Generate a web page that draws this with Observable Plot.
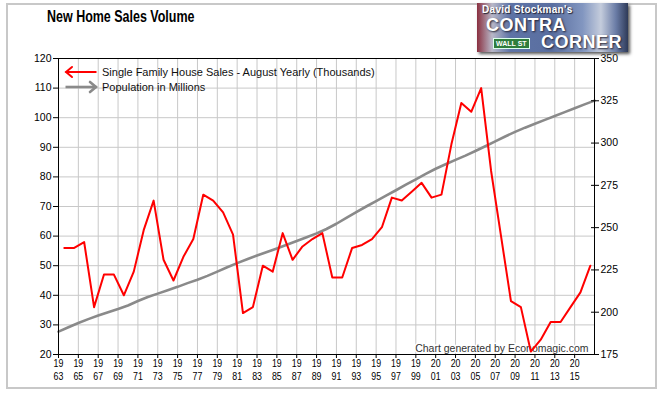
<!DOCTYPE html>
<html>
<head>
<meta charset="utf-8">
<script src="https://cdn.jsdelivr.net/npm/d3@7"></script>
<script src="https://cdn.jsdelivr.net/npm/@observablehq/plot@0.6"></script>
<style>
  html, body { margin: 0; padding: 0; background: #fff; }
  #wrap { position: relative; width: 661px; height: 393px; overflow: hidden; font-family: "Liberation Sans", Arial, sans-serif; }
  #border { position: absolute; left: 6px; top: 3px; width: 647px; height: 382px; border: 2px solid #c8c8c8; }
  #title { position: absolute; left: 47px; top: 8px; font: bold 16px "Liberation Sans", Arial, sans-serif; color: #000;
           transform: scaleX(0.78); transform-origin: left top; white-space: nowrap; }
  #legend { position: absolute; left: 64px; top: 65px; font-size: 11px; color: #111; }
  .lrow { position: absolute; left: 0; white-space: nowrap; height: 14px; line-height: 14px; }
  .lrow svg { position: absolute; left: 0; top: 0; }
  .lrow span { position: absolute; left: 38px; top: 0; }
  #logo { position: absolute; left: 477px; top: 3px; width: 151px; height: 49px; overflow: hidden;
          background: linear-gradient(90deg, #8a3040 0%, #b8b8c8 10%, #5e73a6 22%, #5a6fa0 50%, #8296c0 70%, #c4ccdc 82%, #6a7ca6 92%, #2e3a58 100%);
          box-shadow: 2px 2px 3px #555; font-family: "Liberation Sans", Arial, sans-serif; color: #fff; font-weight: bold; }
  #logo div { white-space: nowrap; }
  #logo .a { position: absolute; left: 5px; top: 1px; font-size: 10px; letter-spacing: 0.3px; text-shadow: 1px 1px 1px #223; }
  #logo .b { position: absolute; left: 9px; top: 13px; font-size: 18px; line-height: 18px; letter-spacing: 0.5px; text-shadow: 1px 1px 2px #223; }
  #logo .c { position: absolute; left: 64px; top: 30px; font-size: 18px; line-height: 18px; letter-spacing: 0.5px; text-shadow: 1px 1px 2px #223; }
  #logo .d { position: absolute; left: 16px; top: 35px; font-size: 7px; background: #2f7d3c; border: 1px solid #dfe; padding: 0 2px; line-height: 9px; }
</style>
</head>
<body>
<div id="wrap">
  <div id="chart"></div>
  <div id="border"></div>
  <div id="title">New Home Sales Volume</div>
  <div id="logo"><div class="a">David Stockman's</div><div class="b">CONTRA</div><div class="c">CORNER</div><div class="d">WALL ST</div></div>
  <div id="legend"></div>
</div>
<script>
// ---- data ----
const salesYears = d3.range(1963, 2017);
const sales = [56, 56, 58, 36, 47, 47, 40, 48, 62, 72,
               52, 45, 53, 59, 74, 72, 68, 60.5, 34, 36,
               50, 48, 61, 52, 56.5, 59, 61, 46, 46, 56,
               57, 59, 63, 73, 72, 75, 78, 73, 74, 91,
               105, 102, 110, 82, 60, 38, 36, 21, 25, 31,
               31, 36, 41, 50];
const popYears = d3.range(1963, 2018);
const population = [188.5, 191.1, 193.6, 195.9, 198.0, 200.0, 201.9, 204.0, 206.6, 209.0,
                    211.0, 213.0, 215.0, 217.2, 219.2, 221.5, 224.0, 226.6, 229.0, 231.3,
                    233.5, 235.6, 237.7, 239.9, 242.1, 244.3, 246.6, 249.2, 252.3, 255.8,
                    259.2, 262.5, 265.7, 268.9, 272.1, 275.4, 278.6, 281.8, 284.8, 287.5,
                    290.1, 292.6, 295.3, 298.1, 301.0, 303.9, 306.6, 309.1, 311.4, 313.7,
                    316.0, 318.3, 320.6, 322.9, 325.1];
const xTicks = d3.range(1963, 2016, 2);
const leftTicks = d3.range(20, 121, 10);
const rightTicks = d3.range(175, 351, 25);
const seriesNames = ["Single Family House Sales - August Yearly (Thousands)", "Population in Millions"];
const caption = "Chart generated by Economagic.com";
const augustOffset = 7 / 12;

// right axis (population) mapped onto left axis units
const leftDomain = [20, 120];
const rightDomain = [175, 350];
const toLeft = v => leftDomain[0] + (v - rightDomain[0]) * (leftDomain[1] - leftDomain[0]) / (rightDomain[1] - rightDomain[0]);
const fromLeft = v => rightDomain[0] + (v - leftDomain[0]) * (rightDomain[1] - rightDomain[0]) / (leftDomain[1] - leftDomain[0]);

const salesData = salesYears.map((y, i) => ({x: y + augustOffset, v: sales[i]}));
const popData = popYears.map((y, i) => ({x: y, v: toLeft(population[i])}));

const chart = Plot.plot({
  width: 661,
  height: 393,
  marginLeft: 58,
  marginRight: 67,
  marginTop: 58,
  marginBottom: 39,
  style: {background: "transparent", fontFamily: "Liberation Sans, Arial, sans-serif", color: "#000"},
  x: {domain: [1963, 2017]},
  y: {domain: leftDomain},
  marks: [
    Plot.gridX(xTicks, {stroke: "#c8c8c8", strokeOpacity: 1}),
    Plot.gridY(leftTicks, {stroke: "#c8c8c8", strokeOpacity: 1}),
    Plot.text([caption], {frameAnchor: "bottom-right", dx: -6, dy: -3, fontSize: 10.5, fill: "#333",
                          stroke: "white", strokeWidth: 3, textAnchor: "end"}),
    Plot.line(popData, {x: "x", y: "v", stroke: "#8a8a8a", strokeWidth: 2.6}),
    Plot.line(salesData, {x: "x", y: "v", stroke: "#ff0000", strokeWidth: 2}),
    Plot.frame({stroke: "#000"}),
    Plot.axisY(leftTicks, {anchor: "left", tickSize: 5, tickPadding: 2, fontSize: 10.5, label: null}),
    Plot.axisY(rightTicks.map(toLeft), {anchor: "right", tickSize: 8, dx: -4, tickPadding: 2, fontSize: 10.5,
                                        tickFormat: d => String(Math.round(fromLeft(d))), label: null}),
    Plot.axisX(xTicks, {anchor: "bottom", tickSize: 4, tickPadding: -1, fontSize: 11,
                        lineHeight: 1.18, tickFormat: d => String(d).slice(0, 2) + "\n" + String(d).slice(2), label: null})
  ]
});
// condensed x tick labels as in the reference
chart.querySelectorAll('g[aria-label="x-axis tick label"] text').forEach(t => {
  const tr = t.getAttribute("transform") || "";
  t.setAttribute("transform", tr + " scale(0.8,1)");
});
document.getElementById("chart").appendChild(chart);

// legend
const legend = document.getElementById("legend");
const rows = [
  {name: seriesNames[0], color: "#ff0000", dir: "left", top: 0, w: 2},
  {name: seriesNames[1], color: "#8a8a8a", dir: "right", top: 15, w: 2.6}
];
rows.forEach(r => {
  const row = document.createElement("div");
  row.className = "lrow";
  row.style.top = r.top + "px";
  const head = r.dir === "left" ? "M8,2 L2,7 L8,12" : "M26,2 L32,7 L26,12";
  row.innerHTML = `<svg width="36" height="14"><path d="M1.5,7 H32.5" stroke="${r.color}" stroke-width="${r.w}" fill="none"/>` +
                  `<path d="${head}" stroke="${r.color}" stroke-width="${r.w}" fill="none" stroke-linecap="round"/></svg><span>${r.name}</span>`;
  legend.appendChild(row);
});
</script>
</body>
</html>
